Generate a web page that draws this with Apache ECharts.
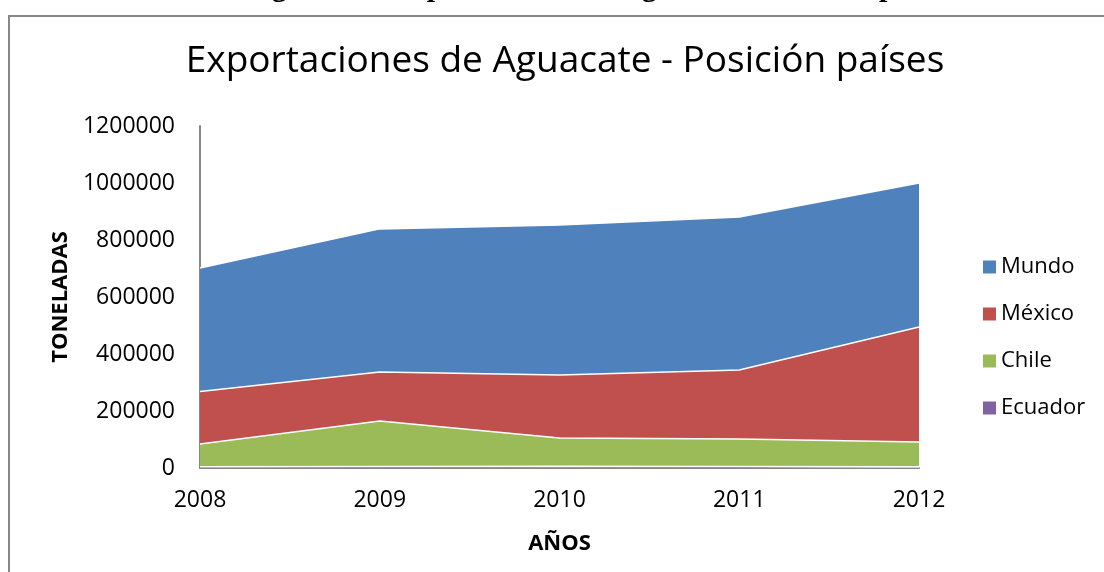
<!DOCTYPE html>
<html>
<head>
<meta charset="utf-8">
<script src="https://cdn.jsdelivr.net/npm/echarts@6/dist/echarts.min.js"></script>
<style>
  html, body { margin: 0; padding: 0; background: #fff; }
  #chart { width: 1104px; height: 572px; }
</style>
</head>
<body>
<div id="chart"></div>
<script>
  // Data (tonnes).
  const years = ['2008', '2009', '2010', '2011', '2012'];
  const mundo = [702000, 839000, 853000, 881000, 1000000];
  const mexico = [268000, 337000, 326000, 344000, 495000];
  const chile = [84000, 165000, 105000, 102000, 91000];
  const ecuador = [4000, 5000, 6000, 5000, 4000];

  const FONT = '"Open Sans", sans-serif';
  const COLORS = { mundo: '#4F81BD', mexico: '#C0504D', chile: '#9BBB59', ecuador: '#8064A2' };

  function areaSeries(name, data, color, z) {
    return {
      name, type: 'line', data, z,
      symbol: 'none',
      lineStyle: { color: '#ffffff', width: 1.5 },
      itemStyle: { color },
      areaStyle: { color, opacity: 1 },
      emphasis: { disabled: true },
    };
  }

  const chart = echarts.init(document.getElementById('chart'), null, { renderer: 'canvas' });
  chart.setOption({
    animation: false,
    backgroundColor: '#ffffff',
    textStyle: { fontFamily: FONT },
    title: {
      text: 'Exportaciones de Aguacate - Posición países',
      left: 560, top: 38, textAlign: 'center',
      textStyle: { fontFamily: FONT, fontSize: 37, fontWeight: 'normal', color: '#000' },
    },
    graphic: [
      {
        type: 'rect', silent: true,
        shape: { x: 9, y: 16, width: 1200, height: 700 },
        style: { fill: 'none', stroke: '#878787', lineWidth: 2 },
      },
      // document caption, cut off by the top edge of the picture (only descenders show)
      {
        type: 'text', silent: true, x: 245, y: -12,
        style: {
          text: 'Figura 4.1. Exportaciones de Aguacate - Posición países',
          font: 'bold 30px "Liberation Serif", serif', fill: '#000',
          verticalAlign: 'middle',
        },
      },
    ],
    legend: {
      orient: 'vertical',
      left: 978, top: 251,
      itemGap: 25,
      itemWidth: 13, itemHeight: 13,
      icon: 'rect',
      data: ['Mundo', 'México', 'Chile', 'Ecuador'],
      textStyle: { fontFamily: FONT, fontSize: 22, color: '#000' },
    },
    grid: { left: 200, right: 185, top: 126, bottom: 104 },
    xAxis: {
      type: 'category',
      data: years,
      boundaryGap: false,
      name: 'AÑOS', nameLocation: 'middle', nameGap: 65,
      nameTextStyle: { fontFamily: FONT, fontSize: 22, fontWeight: 'bold', color: '#000' },
      axisLine: { lineStyle: { color: '#868686', width: 2 } },
      axisTick: { show: false },
      axisLabel: { fontFamily: FONT, fontSize: 23, color: '#000', margin: 21 },
      splitLine: { show: false },
    },
    yAxis: {
      type: 'value',
      min: 0, max: 1200000, interval: 200000,
      name: 'TONELADAS', nameLocation: 'middle', nameGap: 114, nameRotate: 90,
      nameTextStyle: { fontFamily: FONT, fontSize: 22, fontWeight: 'bold', color: '#000' },
      axisLine: { show: true, lineStyle: { color: '#868686', width: 2 } },
      axisTick: { show: false },
      axisLabel: { fontFamily: FONT, fontSize: 23, color: '#000', margin: 25, formatter: v => String(v) },
      splitLine: { show: false },
    },
    series: [
      areaSeries('Mundo', mundo, COLORS.mundo, 1),
      areaSeries('México', mexico, COLORS.mexico, 2),
      areaSeries('Chile', chile, COLORS.chile, 3),
      areaSeries('Ecuador', ecuador, COLORS.ecuador, 4),
    ],
  });
</script>
</body>
</html>
